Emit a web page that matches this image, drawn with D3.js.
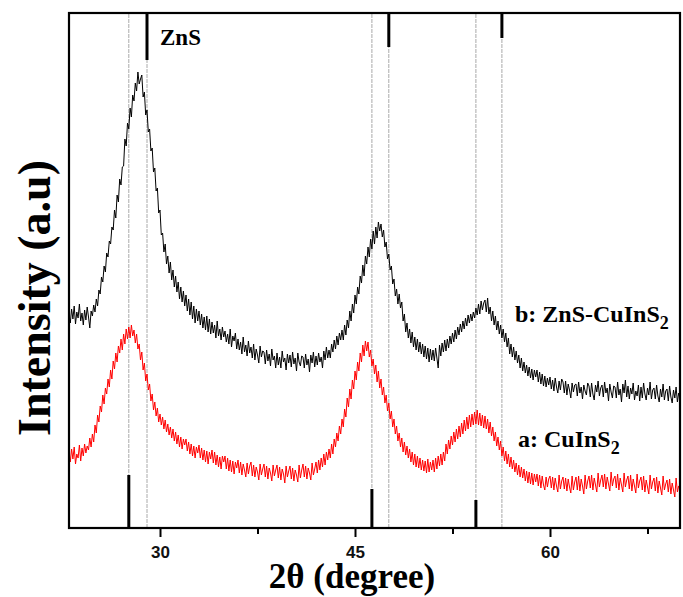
<!DOCTYPE html>
<html>
<head>
<meta charset="utf-8">
<script src="https://cdn.jsdelivr.net/npm/d3@7"></script>
<style>
  html, body { margin: 0; padding: 0; background: #fff; }
  svg { display: block; }
</style>
</head>
<body>
<div id="chart"></div>
<script>
// ---- data ----
const angleStart = 23.0;   // 2θ of first sample (degree)
const angleStep = 0.1;     // sampling step (degree)

// b: ZnS-CuInS2 (offset, a.u.)
const seriesZnSCuInS2 = [
213,205,219,209,222,204,216,210,224,207,
215,203,218,208,221,211,200,217,212,223,
216,229,222,238,234,251,246,262,256,275,
271,287,284,301,298,318,310,333,326,349,
343,361,362,389,382,405,399,420,411,433,
427,445,437,456,444,449,453,431,436,413,
418,396,399,377,380,356,360,337,340,315,
318,293,295,276,284,264,272,255,266,248,
258,241,252,236,246,229,241,226,237,222,
233,217,229,213,226,209,222,205,219,207,
217,203,214,200,211,198,212,196,209,194,
206,195,203,190,207,192,199,188,201,191,
197,186,194,184,199,181,192,187,195,179,
189,178,186,174,191,176,183,172,187,175,
181,170,184,168,179,173,165,182,171,177,
176,164,178,167,174,162,179,168,172,160,
175,163,171,160,177,166,170,158,174,165,
173,161,176,164,170,157,175,166,162,172,
171,160,174,163,169,156,173,165,176,161,
172,163,175,166,171,160,177,168,181,170,
178,170,184,176,188,179,192,183,195,188,
198,188,203,193,208,200,217,207,224,215,
233,224,241,234,252,245,263,252,272,264,
281,271,289,279,297,284,301,290,306,297,
304,291,298,281,286,269,274,258,262,244,
249,232,239,224,234,220,226,207,214,196,
205,190,199,185,196,181,191,178,189,176,
186,174,184,171,182,169,180,166,179,168,
178,167,180,170,160,183,172,185,176,188,
177,189,180,192,184,195,186,198,189,201,
193,204,196,207,199,210,202,213,205,214,
207,216,210,220,213,224,214,227,218,225,
228,216,230,214,221,207,217,203,212,198,
207,194,203,190,199,186,195,181,190,174,
184,171,181,168,177,165,173,160,170,157,
166,155,163,152,161,150,159,148,158,151,
158,146,156,144,154,142,152,141,150,143,
151,139,148,137,150,141,135,147,138,149,
146,135,147,133,144,138,130,145,136,143,
144,132,146,135,141,129,143,137,133,145,
142,131,145,134,128,143,136,147,132,140,
143,131,146,135,140,127,144,136,130,142,
141,130,146,133,139,126,144,135,148,131,
142,129,140,134,145,128,137,132,143,127,
141,130,145,134,128,140,133,146,129,138,
140,129,143,132,126,139,131,144,128,137,
139,127,142,131,125,138,130,141,126,135,
130
];

// a: CuInS2 (a.u.)
const seriesCuInS2 = [
76,66,79,69,81,64,74,70,83,67,
80,72,84,75,82,78,90,81,94,86,
103,95,113,106,122,116,133,124,140,134,
149,141,158,149,167,159,175,166,182,175,
189,178,194,184,199,189,201,190,203,192,
198,185,194,179,184,168,176,158,165,147,
154,138,144,127,134,118,126,112,120,106,
114,103,111,99,108,96,104,93,101,90,
99,87,96,84,93,81,91,79,89,83,
89,77,86,74,84,72,82,70,81,75,
83,70,80,68,78,66,77,64,76,69,
78,65,76,63,73,61,71,59,72,66,
72,59,70,57,68,56,67,54,66,60,
68,55,66,53,64,58,51,65,54,62,
66,52,63,51,61,56,48,64,53,59,
64,51,62,49,60,55,47,63,52,58,
63,50,61,48,59,54,45,62,51,57,
62,49,60,47,58,53,46,63,50,58,
64,51,62,49,60,55,48,65,53,59,
66,55,68,58,70,61,74,63,76,68,
79,70,84,74,89,81,95,87,102,94,
109,101,119,111,130,121,139,129,148,139,
157,148,166,157,175,166,183,172,187,177,
186,171,178,162,169,154,163,146,157,140,
149,133,141,125,133,117,125,109,117,101,
109,94,102,87,95,81,90,76,86,73,
82,70,79,66,76,63,74,61,72,60,
70,58,68,57,67,55,69,56,66,58,
68,56,70,59,72,62,74,63,76,67,
84,74,88,79,92,83,96,86,99,89,
102,91,105,94,108,97,111,99,113,101,
114,103,116,104,118,103,115,102,113,100,
112,99,109,95,106,92,101,87,96,82,
91,78,87,72,81,67,77,64,74,61,
71,59,68,56,65,53,63,51,61,50,
59,47,57,45,56,44,55,43,54,46,
54,42,53,40,52,43,38,51,41,49,
52,40,51,38,50,42,36,53,39,47,
51,39,50,37,49,41,35,52,38,46,
51,38,52,37,49,42,34,53,39,47,
52,40,53,38,50,43,36,55,41,48,
53,41,54,39,51,44,37,56,42,49,
52,40,54,38,50,43,36,55,41,48,
52,39,53,37,49,42,35,54,40,47,
51,38,52,36,48,41,34,53,39,46,
50,37,51,35,47,40,33,52,38,44,
48,36,49,34,45,38,31,50,36,42,
43
];

// reference patterns
const cuinsPeaks = [27.6, 46.3, 54.3];     // CuInS2 reference 2θ
const cuinsSticks = [53, 39, 28];          // stick heights (a.u., from bottom)
const znsPeaks = [29.0, 47.6, 56.3];       // ZnS reference 2θ
const znsSticks = [47, 34, 25];            // stick heights (a.u., from top)

const xMajorTicks = [30, 45, 60];
const xMinorTicks = [37.5, 52.5, 67.5];
const xDomain = [23, 70];
const yDomain = [0, 515];

// ---- chart ----
const W = 683, H = 597;
const L = 69, R = 680, T = 13, B = 528;

const svg = d3.select("#chart").append("svg")
  .attr("width", W).attr("height", H);

const x = d3.scaleLinear().domain(xDomain).range([L, R]);
const y = d3.scaleLinear().domain(yDomain).range([B, T]);

// thin reference lines
const refAll = cuinsPeaks.concat(znsPeaks);
svg.append("g").selectAll("line").data(refAll).join("line")
  .attr("x1", d => x(d)).attr("x2", d => x(d))
  .attr("y1", y(yDomain[0])).attr("y2", y(yDomain[1]))
  .attr("stroke", "#a0a0a0").attr("stroke-width", 0.9)
  .attr("stroke-dasharray", "4,1");

// curves
const line = d3.line()
  .x((d, i) => x(angleStart + i * angleStep))
  .y(d => y(d));

svg.append("path").datum(seriesCuInS2)
  .attr("d", line).attr("fill", "none")
  .attr("stroke", "#ff0000").attr("stroke-width", 1);

svg.append("path").datum(seriesZnSCuInS2)
  .attr("d", line).attr("fill", "none")
  .attr("stroke", "#000").attr("stroke-width", 1);

// CuInS2 sticks (bottom)
svg.append("g").selectAll("line").data(cuinsPeaks).join("line")
  .attr("x1", d => x(d)).attr("x2", d => x(d))
  .attr("y1", y(0)).attr("y2", (d, i) => y(cuinsSticks[i]))
  .attr("stroke", "#000").attr("stroke-width", 3);

// ZnS sticks (top)
svg.append("g").selectAll("line").data(znsPeaks).join("line")
  .attr("x1", d => x(d)).attr("x2", d => x(d))
  .attr("y1", y(yDomain[1])).attr("y2", (d, i) => y(yDomain[1] - znsSticks[i]))
  .attr("stroke", "#000").attr("stroke-width", 3);

// axes
const axMajor = svg.append("g").attr("transform", `translate(0,${B})`)
  .call(d3.axisBottom(x).tickValues(xMajorTicks).tickSize(9).tickSizeOuter(0).tickPadding(9).tickFormat(d3.format("d")));
const axMinor = svg.append("g").attr("transform", `translate(0,${B})`)
  .call(d3.axisBottom(x).tickValues(xMinorTicks).tickSize(6).tickSizeOuter(0).tickFormat(""));
[axMajor, axMinor].forEach(g => {
  g.select(".domain").remove();
  g.selectAll(".tick line").attr("stroke", "#000").attr("stroke-width", 2);
});
axMajor.selectAll(".tick text")
  .attr("font-family", "Liberation Sans, Arial, sans-serif")
  .attr("font-weight", "bold").attr("font-size", 17).attr("fill", "#111");

// frame
svg.append("rect")
  .attr("x", L).attr("y", T).attr("width", R - L).attr("height", B - T)
  .attr("fill", "none").attr("stroke", "#000").attr("stroke-width", 2.2);

// labels
const serif = "Liberation Serif, Times New Roman, serif";
svg.append("text").attr("x", x(30.0)).attr("y", 45)
  .attr("font-family", serif).attr("font-weight", "bold").attr("font-size", 23)
  .text("ZnS");

const tb = svg.append("text").attr("x", 515).attr("y", 322)
  .attr("font-family", serif).attr("font-weight", "bold").attr("font-size", 24);
tb.append("tspan").text("b: ZnS-CuInS");
tb.append("tspan").attr("font-size", 18).attr("dy", 7).text("2");

const ta = svg.append("text").attr("x", 518).attr("y", 447)
  .attr("font-family", serif).attr("font-weight", "bold").attr("font-size", 24);
ta.append("tspan").text("a: CuInS");
ta.append("tspan").attr("font-size", 18).attr("dy", 7).text("2");

svg.append("text").attr("x", 352).attr("y", 588)
  .attr("text-anchor", "middle")
  .attr("font-family", serif).attr("font-weight", "bold").attr("font-size", 35)
  .text("2θ (degree)");

svg.append("text")
  .attr("transform", "translate(50,298) rotate(-90)")
  .attr("text-anchor", "middle")
  .attr("font-family", serif).attr("font-weight", "bold").attr("font-size", 46)
  .text("Intensity (a.u)");
</script>
</body>
</html>
